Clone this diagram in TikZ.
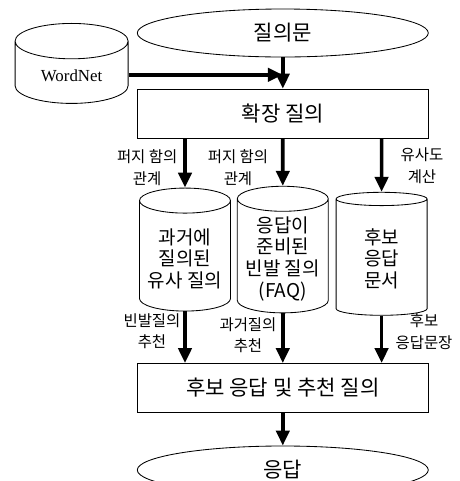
\documentclass[tikz,border=0pt]{standalone}
\usepackage{fontspec}
\setmainfont{Noto Sans CJK KR}
\newfontfamily\wnfont{Liberation Serif}
\usepackage{tikz}
\usetikzlibrary{shapes.geometric,arrows.meta}
\usetikzlibrary{positioning}
\tikzstyle{terminal} = [draw, ellipse, line width=0.6pt, minimum width=7.275cm, minimum height=1.2cm, font=\fontsize{15}{17}\selectfont]
\tikzstyle{process} = [draw, rectangle, line width=0.6pt, minimum width=7.275cm, minimum height=1.225cm, font=\fontsize{15}{17}\selectfont]
\tikzstyle{store} = [draw, cylinder, shape border rotate=90, aspect=0.3, line width=0.6pt, minimum width=2.275cm, minimum height=3.075cm, align=center, font=\fontsize{13.5}{15.5}\selectfont]
\tikzstyle{arrow} = [draw, -{Triangle[length=0.375cm,width=0.33cm]}, line width=2.6pt]
\tikzstyle{edgelabel} = [align=center, font=\fontsize{11}{15.5}\selectfont]

\begin{document}
\begin{tikzpicture}
\useasboundingbox (0,0) rectangle (11.5,-12.025);
\clip (0,0) rectangle (11.5,-12.025);

%% input side
\node[terminal] (query) at (7.07,-0.825) {질의문};
\node[store, aspect=0.5, minimum width=2.825cm, minimum height=2cm, font=\wnfont\fontsize{12}{14}\selectfont] (wordnet) at (1.79,-1.9) {WordNet};
\node[process] (expand) at (7.07,-2.84) {확장 질의};
\coordinate (meet) at (7.07,-1.87);

\draw[arrow] (query) -- (expand);
\draw[arrow] (wordnet.east |- meet) -- (meet);

%% stores
\node[store] (past) at (4.625,-6.47) {과거에\\질의된\\유사 질의};
\node[store] (faq) at (7.07,-6.47) {응답이\\준비된\\빈발 질의\\(FAQ)};
\node[store] (doc) at (9.54,-6.47) {후보\\응답\\문서};

\draw[arrow] (expand.south -| past) -- (past.north);
\draw[arrow] (expand.south -| faq) -- (faq.north);
\draw[arrow] (expand.south -| doc) -- (doc.north);
\node[edgelabel] (fuzzyA) at (3.68,-4.2) {퍼지 함의\\관계};
\node[edgelabel] (fuzzyB) at (5.95,-4.2) {퍼지 함의\\관계};
\node[edgelabel] (simcalc) at (10.55,-4.15) {유사도\\계산};

%% output side
\node[process] (result) at (7.07,-9.7) {후보 응답 및 추천 질의};
\node[terminal] (answer) at (7.07,-11.75) {응답};

\draw[arrow] (past.south) -- (result.north -| past);
\draw[arrow] (faq.south) -- (result.north -| faq);
\draw[arrow] (doc.south) -- (result.north -| doc);
\draw[arrow] (result) -- (answer);
\node[edgelabel] (freqrec) at (3.8,-8.28) {빈발질의\\추천};
\node[edgelabel] (pastrec) at (6.2,-8.38) {과거질의\\추천};
\node[edgelabel] (candsent) at (10.6,-8.3) {후보\\응답문장};
\end{tikzpicture}
\end{document}
